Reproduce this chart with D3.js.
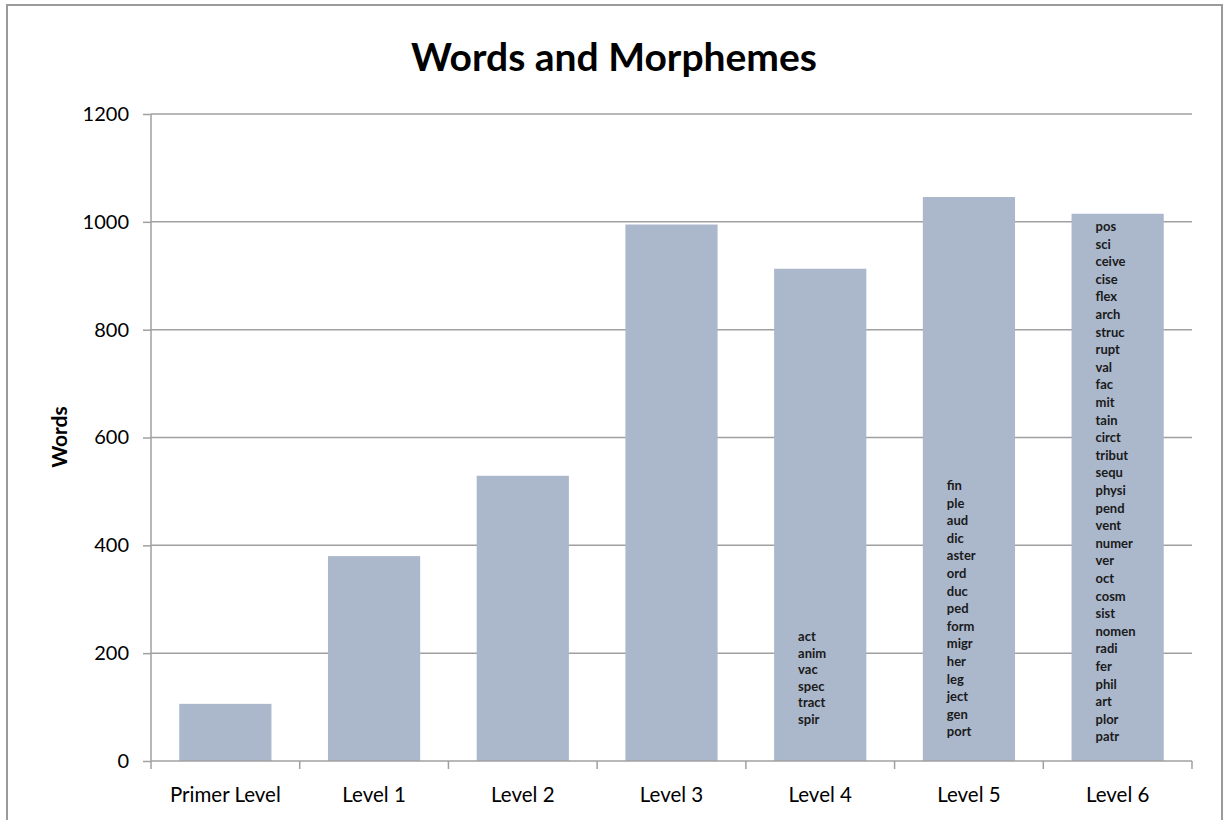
<!DOCTYPE html>
<html><head><meta charset="utf-8">
<script src="https://cdn.jsdelivr.net/npm/d3@7"></script>
<style>
body{margin:0;background:#fff;}
text{font-family:Lato,"Open Sans",sans-serif;}
</style></head>
<body><svg id="c" width="1224" height="820"></svg>
<script>
const categories = ["Primer Level","Level 1","Level 2","Level 3","Level 4","Level 5","Level 6"];
const words = [106, 380, 529, 995, 913, 1046, 1015];
const yTicks = [0,200,400,600,800,1000,1200];
const morphemesL4 = ["act","anim","vac","spec","tract","spir"];
const morphemesL5 = ["fin","ple","aud","dic","aster","ord","duc","ped","form","migr","her","leg","ject","gen","port"];
const morphemesL6 = ["pos","sci","ceive","cise","flex","arch","struc","rupt","val","fac","mit","tain","circt","tribut","sequ","physi","pend","vent","numer","ver","oct","cosm","sist","nomen","radi","fer","phil","art","plor","patr"];
const morphemes = {"Level 4": morphemesL4, "Level 5": morphemesL5, "Level 6": morphemesL6};

const svg = d3.select("#c");
// outer frame
svg.append("rect").attr("x",7).attr("y",5).attr("width",1215).attr("height",830)
  .attr("fill","none").attr("stroke","#9a9a9a").attr("stroke-width",2);

const m = {l:151, r:1192, t:114, b:761};
const x = d3.scaleBand().domain(categories).range([m.l, m.r]).paddingInner(0.38).paddingOuter(0.19);
const y = d3.scaleLinear().domain([0,1200]).range([m.b, m.t]);

// gridlines
svg.append("g").selectAll("line").data(yTicks.filter(d=>d>0)).join("line")
  .attr("x1",m.l).attr("x2",m.r).attr("y1",d=>y(d)).attr("y2",d=>y(d))
  .attr("stroke","#a0a0a0").attr("stroke-width",1.5);

// bars
svg.append("g").selectAll("rect").data(categories).join("rect")
  .attr("x",d=>x(d)).attr("width",x.bandwidth())
  .attr("y",(d,i)=>y(words[i])).attr("height",(d,i)=>y(0)-y(words[i]))
  .attr("fill","#abb8cc");

// y axis
const ya = svg.append("g").attr("transform",`translate(${m.l},0)`)
  .call(d3.axisLeft(y).tickValues(yTicks).tickFormat(d3.format("d")).tickSize(8).tickPadding(14));
ya.select(".domain").attr("stroke","#a0a0a0").attr("stroke-width",1.5).attr("d",`M0,${m.t}V${m.b}`);
ya.selectAll(".tick line").attr("stroke","#a0a0a0").attr("stroke-width",1.5);
ya.selectAll(".tick text").attr("font-size",20).attr("fill","#000").attr("font-family","Lato,sans-serif");

// x axis
const boundaries = d3.range(categories.length+1).map(i=>m.l + i*(m.r-m.l)/categories.length);
const xa = svg.append("g").attr("transform",`translate(0,${m.b})`);
xa.append("line").attr("x1",m.l).attr("x2",m.r).attr("stroke","#a0a0a0").attr("stroke-width",1.5);
xa.selectAll(".bt").data(boundaries).join("line").attr("class","bt")
  .attr("x1",d=>d).attr("x2",d=>d).attr("y1",0).attr("y2",8)
  .attr("stroke","#a0a0a0").attr("stroke-width",1.5);
xa.selectAll("text").data(categories).join("text")
  .attr("x",d=>x(d)+x.bandwidth()/2).attr("y",41).attr("text-anchor","middle")
  .attr("font-size",20.5).attr("fill","#000").text(d=>d);

// morpheme labels
const lineH = {"Level 4":16.6, "Level 5":17.6, "Level 6":17.6};
const firstY = {"Level 4":641, "Level 5":490, "Level 6":231};
Object.keys(morphemes).forEach(k=>{
  svg.append("g").selectAll("text").data(morphemes[k]).join("text")
    .attr("x", x(k)+24).attr("y",(d,i)=>firstY[k]+i*lineH[k])
    .attr("font-size",13).attr("font-weight",700).attr("fill","#1a1a1a").text(d=>d);
});

// title
svg.append("text").attr("x",614).attr("y",71).attr("text-anchor","middle")
  .attr("font-size",39).attr("font-weight",700).attr("fill","#000").text("Words and Morphemes");
// y label
svg.append("text").attr("transform","translate(67,437) rotate(-90)").attr("text-anchor","middle")
  .attr("font-size",21).attr("font-weight",700).attr("fill","#000").text("Words");
</script></body></html>
